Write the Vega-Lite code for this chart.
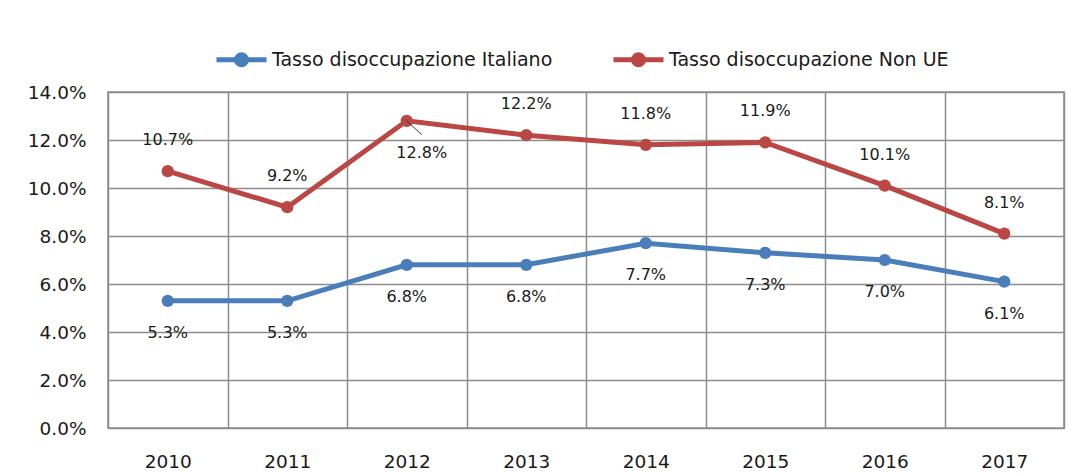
{
  "$schema": "https://vega.github.io/schema/vega-lite/v6.json",
  "width": 956,
  "height": 336,
  "autosize": {"type": "none"},
  "padding": {"left": 108, "top": 92, "right": 11, "bottom": 46},
  "background": "white",
  "config": {
    "view": {"stroke": "#8c8c8c", "strokeWidth": 1.5},
    "font": "DejaVu Sans"
  },
  "data": {
    "values": [
      {"year": "2010", "series": "Tasso disoccupazione Italiano", "value": 0.053},
      {"year": "2011", "series": "Tasso disoccupazione Italiano", "value": 0.053},
      {"year": "2012", "series": "Tasso disoccupazione Italiano", "value": 0.068},
      {"year": "2013", "series": "Tasso disoccupazione Italiano", "value": 0.068},
      {"year": "2014", "series": "Tasso disoccupazione Italiano", "value": 0.077},
      {"year": "2015", "series": "Tasso disoccupazione Italiano", "value": 0.073},
      {"year": "2016", "series": "Tasso disoccupazione Italiano", "value": 0.070},
      {"year": "2017", "series": "Tasso disoccupazione Italiano", "value": 0.061},
      {"year": "2010", "series": "Tasso disoccupazione Non UE", "value": 0.107},
      {"year": "2011", "series": "Tasso disoccupazione Non UE", "value": 0.092},
      {"year": "2012", "series": "Tasso disoccupazione Non UE", "value": 0.128},
      {"year": "2013", "series": "Tasso disoccupazione Non UE", "value": 0.122},
      {"year": "2014", "series": "Tasso disoccupazione Non UE", "value": 0.118},
      {"year": "2015", "series": "Tasso disoccupazione Non UE", "value": 0.119},
      {"year": "2016", "series": "Tasso disoccupazione Non UE", "value": 0.101},
      {"year": "2017", "series": "Tasso disoccupazione Non UE", "value": 0.081}
    ]
  },
  "encoding": {
    "x": {
      "field": "year", "type": "ordinal", "bandPosition": 0.5,
      "scale": {"type": "band", "paddingInner": 0, "paddingOuter": 0},
      "axis": {
        "title": null, "labelAngle": 0, "grid": true, "tickBand": "extent",
        "ticks": false, "domain": false, "gridColor": "#8c8c8c", "gridWidth": 1.5,
        "labelFont": "DejaVu Sans", "labelFontSize": 18.5, "labelColor": "#1a1a1a",
        "labelPadding": 24
      }
    },
    "y": {
      "field": "value", "type": "quantitative",
      "scale": {"domain": [0, 0.14], "nice": false},
      "axis": {
        "title": null, "values": [0, 0.02, 0.04, 0.06, 0.08, 0.10, 0.12, 0.14],
        "format": ".1%", "grid": true, "ticks": false, "domain": false,
        "gridColor": "#8c8c8c", "gridWidth": 1.5,
        "labelFont": "DejaVu Sans", "labelFontSize": 18.5, "labelColor": "#1a1a1a",
        "labelPadding": 22
      }
    }
  },
  "layer": [
    {
      "mark": {"type": "line", "strokeWidth": 5, "point": {"filled": true, "size": 150}},
      "encoding": {
        "color": {
          "field": "series", "type": "nominal",
          "scale": {"domain": ["Tasso disoccupazione Italiano", "Tasso disoccupazione Non UE"], "range": ["#4A7EBB", "#BA4744"]},
          "legend": {
            "title": null, "orient": "none", "legendX": 106, "legendY": -60,
            "direction": "horizontal",
            "symbolType": "M-1,0L1,0M-0.2,0A0.2,0.2 0 1,0 0.2,0A0.2,0.2 0 1,0 -0.2,0Z",
            "symbolSize": 2500, "symbolStrokeWidth": 5,
            "labelFont": "DejaVu Sans", "labelFontSize": 19, "labelColor": "#1a1a1a",
            "labelOffset": 3, "columnPadding": 50, "labelLimit": 0,
            "encode": {"symbols": {"update": {
              "fill": {"scale": "color", "field": "value"},
              "stroke": {"scale": "color", "field": "value"},
              "opacity": {"value": 1}
            }}}
          }
        }
      }
    },
    {
      "transform": [{"filter": "datum.series === 'Tasso disoccupazione Italiano'"}],
      "mark": {"type": "text", "dy": 32, "fontSize": 16, "font": "DejaVu Sans", "color": "#1a1a1a", "baseline": "middle"},
      "encoding": {"text": {"field": "value", "type": "quantitative", "format": ".1%"}}
    },
    {
      "transform": [{"filter": "datum.series === 'Tasso disoccupazione Non UE' && datum.year !== '2012'"}],
      "mark": {"type": "text", "dy": -31, "fontSize": 16, "font": "DejaVu Sans", "color": "#1a1a1a", "baseline": "middle"},
      "encoding": {"text": {"field": "value", "type": "quantitative", "format": ".1%"}}
    },
    {
      "transform": [{"filter": "datum.series === 'Tasso disoccupazione Non UE' && datum.year === '2012'"}],
      "mark": {"type": "text", "dx": 15, "dy": 32, "fontSize": 16, "font": "DejaVu Sans", "color": "#1a1a1a", "baseline": "middle"},
      "encoding": {"text": {"field": "value", "type": "quantitative", "format": ".1%"}}
    },
    {
      "transform": [{"filter": "datum.series === 'Tasso disoccupazione Non UE' && datum.year === '2012'"}],
      "mark": {"type": "rule", "color": "#333333", "strokeWidth": 1, "x2Offset": 15, "y2Offset": 14},
      "encoding": {
        "x2": {"field": "year", "bandPosition": 0.5},
        "y2": {"field": "value"}
      }
    }
  ]
}
